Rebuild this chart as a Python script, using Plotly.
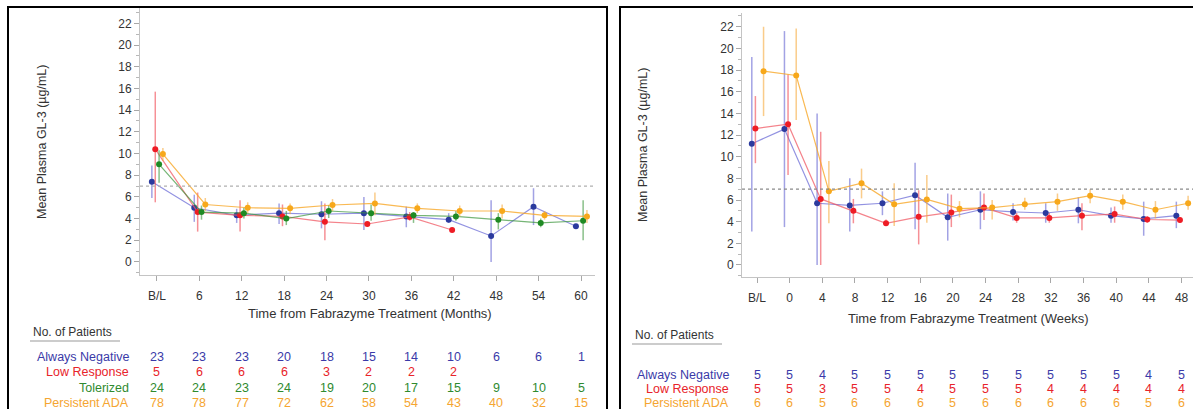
import plotly.graph_objects as go

W, H = 1193, 409

# ---------------- data: left panel (months) ----------------
months = ["B/L", "6", "12", "18", "24", "30", "36", "42", "48", "54", "60"]

neg_m = [7.4, 5.0, 4.3, 4.5, 4.4, 4.5, 4.2, 3.9, 2.4, 5.1, 3.3]
neg_m_hi = [8.9, 6.2, 4.9, 5.4, 5.6, 6.0, 5.1, 4.5, 5.7, 6.8, 3.3]
neg_m_lo = [5.9, 3.7, 3.6, 3.5, 3.1, 2.95, 3.2, 3.6, 0.0, 3.4, 3.3]

low_m = [10.4, 4.6, 4.3, 4.2, 3.7, 3.5, 4.15, 2.95, None, None, None]
low_m_hi = [15.7, 6.4, 5.7, 5.3, 5.4, 3.5, 4.6, 2.95, None, None, None]
low_m_lo = [5.5, 2.8, 2.8, 3.3, 2.0, 3.5, 3.8, 2.95, None, None, None]

tol_m = [9.0, 4.6, 4.5, 4.0, 4.7, 4.5, 4.3, 4.2, 3.9, 3.6, 3.8]
tol_m_hi = [10.3, 5.2, 5.0, 4.7, 5.25, 5.3, 4.6, 4.7, 4.5, 4.0, 5.7]
tol_m_lo = [7.3, 3.9, 4.0, 3.4, 4.05, 3.8, 3.6, 3.8, 3.0, 3.2, 2.0]

ada_m = [9.95, 5.3, 5.0, 4.95, 5.25, 5.4, 4.95, 4.7, 4.7, 4.3, 4.2]
ada_m_hi = [10.5, 5.9, 5.5, 5.4, 5.8, 6.4, 5.4, 5.2, 5.3, 4.7, 4.8]
ada_m_lo = [9.3, 4.7, 4.5, 4.4, 4.7, 4.3, 4.5, 4.2, 4.0, 3.9, 3.6]

n_neg_m = [23, 23, 23, 20, 18, 15, 14, 10, 6, 6, 1]
n_low_m = [5, 6, 6, 6, 3, 2, 2, 2, None, None, None]
n_tol_m = [24, 24, 23, 24, 19, 20, 17, 15, 9, 10, 5]
n_ada_m = [78, 78, 77, 72, 62, 58, 54, 43, 40, 32, 15]

# ---------------- data: right panel (weeks) ----------------
weeks = ["B/L", "0", "4", "8", "12", "16", "20", "24", "28", "32", "36", "40", "44", "48"]

neg_w = [11.2, 12.55, 5.7, 5.5, 5.7, 6.45, 4.4, 5.1, 4.9, 4.8, 5.1, 4.55, 4.25, 4.55]
neg_w_hi = [19.2, 21.6, 14.0, 8.0, 6.8, 9.45, 6.6, 6.8, 5.7, 5.7, 6.25, 5.3, 5.85, 5.85]
neg_w_lo = [3.1, 3.5, 0.0, 3.1, 4.6, 3.3, 2.25, 3.3, 4.1, 3.9, 3.85, 3.9, 2.7, 3.4]

low_w = [12.6, 13.0, 6.1, 5.0, 3.85, 4.45, 4.85, 5.3, 4.35, 4.35, 4.55, 4.7, 4.2, 4.15]
low_w_hi = [15.6, 17.6, 12.3, 6.1, 4.2, 6.9, 6.5, 6.6, 4.8, 4.8, 5.7, 5.4, 4.5, 4.4]
low_w_lo = [9.4, 8.3, 0.0, 3.85, 3.6, 1.9, 3.5, 4.15, 3.9, 3.9, 3.2, 3.9, 3.9, 3.9]

ada_w = [17.9, 17.5, 6.8, 7.55, 5.6, 6.05, 5.2, 5.3, 5.6, 5.85, 6.4, 5.85, 5.1, 5.7]
ada_w_hi = [22.0, 21.85, 9.6, 8.9, 7.55, 8.3, 5.9, 6.0, 6.2, 6.6, 7.0, 6.5, 5.9, 6.4]
ada_w_lo = [13.75, 13.4, 3.85, 6.15, 3.6, 3.9, 4.4, 4.2, 5.1, 5.0, 5.7, 5.1, 4.3, 5.1]

n_neg_w = [5, 5, 4, 5, 5, 5, 5, 5, 5, 5, 5, 5, 4, 5]
n_low_w = [5, 5, 3, 5, 5, 4, 5, 5, 5, 4, 4, 4, 4, 4]
n_ada_w = [6, 6, 5, 6, 6, 6, 5, 6, 6, 6, 6, 6, 5, 6]

threshold = 7

# ---------------- styles ----------------
FONT = "Liberation Sans, Arial, sans-serif"
C = {
    "neg": dict(mk="#2b3a9e", ln="rgba(110,110,215,0.75)", eb="rgba(100,100,210,0.6)", tx="#3a3aa8"),
    "low": dict(mk="#ee1c25", ln="rgba(240,90,100,0.75)", eb="rgba(240,70,80,0.6)", tx="#e8232a"),
    "tol": dict(mk="#1f8a24", ln="rgba(60,150,60,0.7)", eb="rgba(60,150,60,0.6)", tx="#2f8a2f"),
    "ada": dict(mk="#f7a81b", ln="rgba(247,168,40,0.8)", eb="rgba(247,170,60,0.6)", tx="#f5a531"),
}
OFF_L = {"neg": -0.12, "low": -0.04, "tol": 0.05, "ada": 0.14}
OFF_R = {"neg": -0.16, "low": -0.05, "ada": 0.20}


def px_x(p):
    return p / W


def px_y(p):
    return 1 - p / H


fig = go.Figure()


def add_series(key, means, hi, lo, xa, ya, offs, name):
    xs, ys, ep, em = [], [], [], []
    for i, v in enumerate(means):
        if v is None:
            continue
        xs.append(i + offs[key])
        ys.append(v)
        ep.append(max(hi[i] - v, 0))
        em.append(max(v - lo[i], 0))
    c = C[key]
    fig.add_trace(go.Scatter(
        x=xs, y=ys, mode="lines+markers", name=name, xaxis=xa, yaxis=ya,
        line=dict(color=c["ln"], width=1.2),
        marker=dict(color=c["mk"], size=6),
        error_y=dict(type="data", array=ep, arrayminus=em, visible=True,
                     color=c["eb"], thickness=1.5, width=0),
        showlegend=False, cliponaxis=False,
    ))


add_series("neg", neg_m, neg_m_hi, neg_m_lo, "x", "y", OFF_L, "Always Negative")
add_series("low", low_m, low_m_hi, low_m_lo, "x", "y", OFF_L, "Low Response")
add_series("tol", tol_m, tol_m_hi, tol_m_lo, "x", "y", OFF_L, "Tolerized")
add_series("ada", ada_m, ada_m_hi, ada_m_lo, "x", "y", OFF_L, "Persistent ADA")

add_series("neg", neg_w, neg_w_hi, neg_w_lo, "x2", "y2", OFF_R, "Always Negative")
add_series("low", low_w, low_w_hi, low_w_lo, "x2", "y2", OFF_R, "Low Response")
add_series("ada", ada_w, ada_w_hi, ada_w_lo, "x2", "y2", OFF_R, "Persistent ADA")

tickfont = dict(family=FONT, size=12, color="#333333")
yticks = list(range(0, 23, 2))
common_y = dict(
    showline=True, linecolor="#c4c4c4", linewidth=1, ticks="outside", ticklen=5,
    tickcolor="#a8a8a8", tickvals=yticks, ticktext=[str(t) for t in yticks],
    showgrid=False, zeroline=False, tickfont=tickfont,
    minor=dict(ticks="outside", ticklen=3, tickcolor="#b8b8b8", dtick=1, showgrid=False),
)
common_x = dict(
    showline=True, linecolor="#c4c4c4", linewidth=1, ticks="outside", ticklen=5,
    tickcolor="#a8a8a8", showgrid=False, zeroline=False, tickfont=tickfont,
    ticklabelstandoff=5,
)

fig.update_layout(
    width=W, height=H, margin=dict(l=0, r=0, t=0, b=0),
    paper_bgcolor="white", plot_bgcolor="white",
    font=dict(family=FONT, color="#333333"),
    xaxis=dict(domain=[px_x(140), px_x(595)], range=[-0.40, 10.33],
               tickvals=list(range(len(months))), ticktext=months,
               anchor="y", **common_x),
    yaxis=dict(domain=[px_y(275), px_y(8)], range=[-1.2, 23.41], anchor="x", **common_y),
    xaxis2=dict(domain=[px_x(742), 1.0], range=[-0.46, 13.35],
                tickvals=list(range(len(weeks))), ticktext=weeks,
                anchor="y2", **common_x),
    yaxis2=dict(domain=[px_y(277), px_y(13)], range=[-1.11, 23.27], anchor="x2", **common_y),
)

shapes = []
# threshold reference lines
shapes.append(dict(type="line", xref="x domain", yref="y", x0=0, x1=1, y0=threshold, y1=threshold,
                   line=dict(color="#b0b0b0", width=1.2, dash="dot")))
shapes.append(dict(type="line", xref="x2 domain", yref="y2", x0=0, x1=1, y0=threshold, y1=threshold,
                   line=dict(color="#8a8a8a", width=1.2, dash="dot")))
# panel frames
shapes.append(dict(type="rect", xref="paper", yref="paper", x0=px_x(8), x1=px_x(607),
                   y0=-0.2, y1=px_y(7), line=dict(color="black", width=2)))
shapes.append(dict(type="rect", xref="paper", yref="paper", x0=px_x(620), x1=1.2,
                   y0=-0.2, y1=px_y(7), line=dict(color="black", width=2)))
# underlines for "No. of Patients"
shapes.append(dict(type="line", xref="paper", yref="paper", x0=px_x(30), x1=px_x(120),
                   y0=px_y(341), y1=px_y(341), line=dict(color="#999999", width=1)))
shapes.append(dict(type="line", xref="paper", yref="paper", x0=px_x(632), x1=px_x(722),
                   y0=px_y(344), y1=px_y(344), line=dict(color="#999999", width=1)))
fig.update_layout(shapes=shapes)

ann = []
title_font = dict(family=FONT, size=13, color="#333333")
ann.append(dict(text="Time from Fabrazyme Treatment (Months)", xref="paper", yref="paper",
                x=px_x(370), y=px_y(313), showarrow=False, font=title_font,
                xanchor="center", yanchor="middle"))
ann.append(dict(text="Time from Fabrazyme Treatment (Weeks)", xref="paper", yref="paper",
                x=px_x(968), y=px_y(318), showarrow=False, font=title_font,
                xanchor="center", yanchor="middle"))
ytitle_font = dict(family=FONT, size=12.5, color="#333333")
ann.append(dict(text="Mean Plasma GL-3 (µg/mL)", xref="paper", yref="paper", textangle=-90,
                x=px_x(42), y=px_y(142), showarrow=False, font=ytitle_font,
                xanchor="center", yanchor="middle"))
ann.append(dict(text="Mean Plasma GL-3 (µg/mL)", xref="paper", yref="paper", textangle=-90,
                x=px_x(643), y=px_y(145), showarrow=False, font=ytitle_font,
                xanchor="center", yanchor="middle"))

tab_font = 12.5
ann.append(dict(text="No. of Patients", xref="paper", yref="paper", x=px_x(31), y=px_y(332),
                showarrow=False, xanchor="left", yanchor="middle",
                font=dict(family=FONT, size=12, color="#333333")))
ann.append(dict(text="No. of Patients", xref="paper", yref="paper", x=px_x(633), y=px_y(335),
                showarrow=False, xanchor="left", yanchor="middle",
                font=dict(family=FONT, size=12, color="#333333")))


def add_row(label, key, counts, xref, label_x, ypx):
    col = C[key]["tx"]
    ann.append(dict(text=label, xref="paper", yref="paper", x=px_x(label_x), y=px_y(ypx),
                    showarrow=False, xanchor="right", yanchor="middle",
                    font=dict(family=FONT, size=tab_font, color=col)))
    for i, n in enumerate(counts):
        if n is None:
            continue
        ann.append(dict(text=str(n), xref=xref, yref="paper", x=i, y=px_y(ypx),
                        showarrow=False, xanchor="center", yanchor="middle",
                        font=dict(family=FONT, size=tab_font, color=col)))


add_row("Always Negative", "neg", n_neg_m, "x", 131, 357)
add_row("Low Response", "low", n_low_m, "x", 131, 372)
add_row("Tolerized", "tol", n_tol_m, "x", 131, 388)
add_row("Persistent ADA", "ada", n_ada_m, "x", 131, 403)

add_row("Always Negative", "neg", n_neg_w, "x2", 731, 375)
add_row("Low Response", "low", n_low_w, "x2", 731, 389)
add_row("Persistent ADA", "ada", n_ada_w, "x2", 731, 403)

fig.update_layout(annotations=ann)

fig.write_html("out.html")
